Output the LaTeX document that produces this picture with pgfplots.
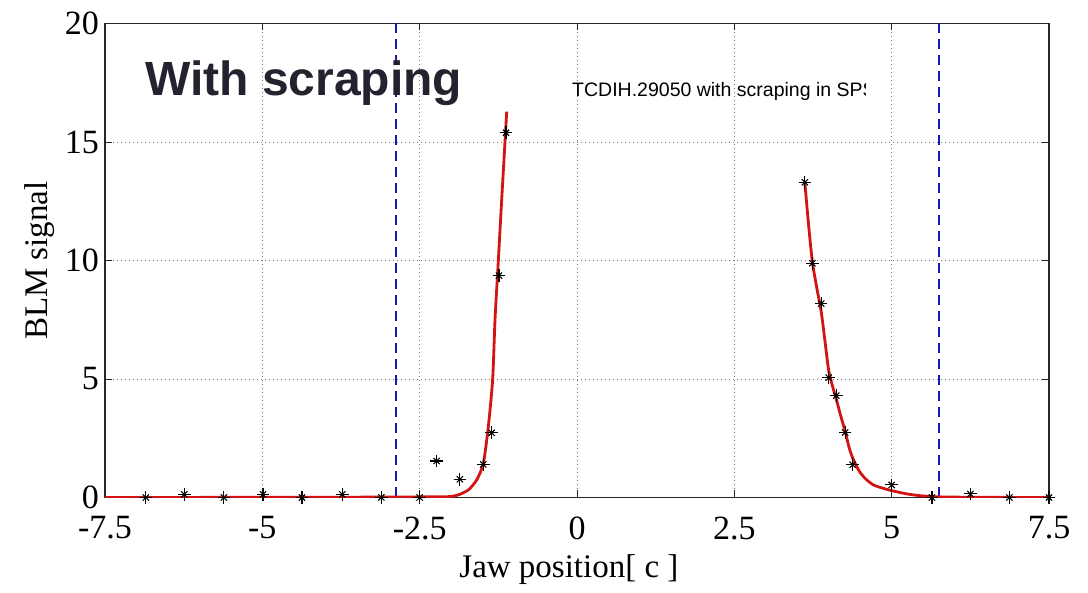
\documentclass[border=0pt]{standalone}
\usepackage{fontspec}
\setmainfont{Liberation Serif}
\newfontfamily\arial{Liberation Sans}
\usepackage{pgfplots}
\pgfplotsset{compat=1.18}
\definecolor{fitred}{RGB}{210,20,20}
\definecolor{dashblue}{RGB}{25,25,170}
\definecolor{titlegray}{RGB}{35,35,47}

\pgfplotstableread{
x y
-6.85 0
-6.24 0.13
-5.61 0
-4.99 0.13
-4.37 0
-3.73 0.13
-3.11 0
-2.50 0
-2.23 1.54
-1.86 0.77
-1.49 1.40
-1.355 2.73
-1.24 9.36
-1.128 15.39
3.62 13.3
3.74 9.88
3.88 8.18
4.00 5.06
4.12 4.30
4.26 2.74
4.38 1.38
5.00 0.53
5.64 0
6.25 0.15
6.87 0
7.50 0
}\stars

\begin{document}
\begin{tikzpicture}
\begin{axis}[
 scale only axis, width=944pt, height=474pt,
 at={(0,0)}, anchor=south west,
 xmin=-7.5, xmax=7.5, ymin=0, ymax=20,
 xtick={-7.5,-5,-2.5,0,2.5,5,7.5},
 xticklabels={-7.5,-5,-2.5,0,2.5,5,7.5},
 ytick={0,5,10,15,20}, yticklabels={0,5,10,15,20},
 tick align=inside, major tick length=7pt,
 grid=major, grid style={dash pattern=on 1pt off 3pt, line width=0.9pt, black!55},
 axis line style={line width=1.2pt, black!85},
 tick style={line width=0.9pt, black!85},
 ticklabel style={font=\fontsize{34}{40}\selectfont, inner sep=0pt},
 xticklabel style={anchor=north, yshift=-19pt},
 yticklabel style={anchor=east, xshift=-6pt},
 xlabel={Jaw position[ c ]}, ylabel={BLM signal},
 label style={font=\fontsize{33}{38}\selectfont},
 xlabel style={at={(axis description cs:0.4915,-0.153)}, anchor=center},
 ylabel style={at={(axis description cs:-0.069,0.5)}, anchor=center},
]
\addplot[dashblue, line width=2pt, dash pattern=on 10pt off 6pt] coordinates {(-2.87,0) (-2.87,20)};
\addplot[dashblue, line width=2pt, dash pattern=on 10pt off 6pt] coordinates {(5.75,0) (5.75,20)};
\addplot[fitred, line width=2.8pt, smooth, tension=0.4] coordinates {
(-7.5,0) (-4.0,0.01) (-3.0,0.02) (-2.5,0.025) (-2.2,0.03) (-2.018,0.04)
(-1.885,0.11) (-1.726,0.32) (-1.594,0.74) (-1.488,1.44) (-1.409,2.99)
(-1.34,4.99) (-1.303,7.49) (-1.25,9.99) (-1.197,12.55) (-1.144,15.01) (-1.117,16.28)};
\addplot[fitred, line width=2.8pt, smooth, tension=0.5] coordinates {
(3.62,13.3) (3.68,11.5) (3.74,9.95) (3.81,8.85) (3.88,7.85) (3.94,6.6) (4.0,5.35)
(4.06,4.7) (4.12,4.15) (4.19,3.45) (4.26,2.8) (4.33,2.05) (4.4,1.55) (4.5,1.05)
(4.6,0.75) (4.71,0.53) (4.85,0.4) (5.0,0.29) (5.29,0.13) (5.66,0.035) (6.3,0.01) (7.5,0)};
\addplot[only marks, mark=+, mark size=6.3pt, black, mark options={line width=1.1pt}] table[x=x,y=y] {\stars};
\addplot[only marks, mark=x, mark size=4.4pt, black, mark options={line width=1.1pt}] table[x=x,y=y] {\stars};
\node[anchor=base west, inner sep=0pt, text=titlegray, font=\arial\bfseries\fontsize{48}{52}\selectfont] at (axis cs:-6.864,16.98) {With scraping};
\coordinate (clipA) at (axis cs:-1,15);
\coordinate (clipB) at (axis cs:4.577,19);
\coordinate (tpos) at (axis cs:-0.079,16.91);
\end{axis}
\begin{scope}
\clip (clipA) rectangle (clipB);
\node[anchor=base west, inner sep=0pt, font=\arial\fontsize{19.5}{22}\selectfont] at (tpos) {TCDIH.29050 with scraping in SPS};
\end{scope}
\pgfresetboundingbox
\path[use as bounding box] (-105pt,-95.5pt) rectangle (983pt,497.5pt);
\end{tikzpicture}
\end{document}
